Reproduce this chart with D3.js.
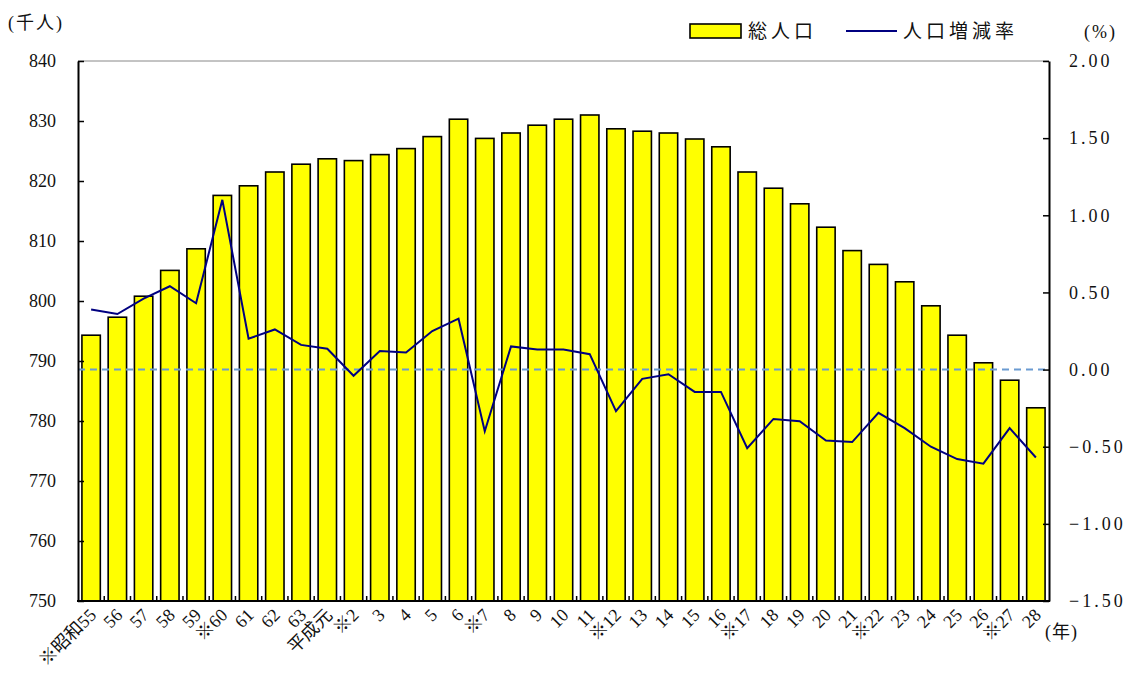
<!DOCTYPE html>
<html><head><meta charset="utf-8">
<script src="https://cdn.jsdelivr.net/npm/d3@7"></script>
<style>
body{margin:0;background:#fff;}
</style></head>
<body><svg id="c" width="1135" height="682" font-family="'Liberation Serif','DejaVu Serif','Noto Sans CJK JP',serif"></svg>
<script>
const categories = ["※昭和55","56","57","58","59","※60","61","62","63","平成元","※2","3","4","5","6","※7","8","9","10","11","※12","13","14","15","16","※17","18","19","20","21","※22","23","24","25","26","※27","28"];
const population = [794.3,797.3,800.8,805.1,808.7,817.6,819.2,821.5,822.8,823.7,823.4,824.4,825.4,827.4,830.3,827.1,828.0,829.3,830.3,831.0,828.7,828.3,828.0,827.0,825.7,821.5,818.8,816.2,812.3,808.4,806.1,803.2,799.2,794.3,789.7,786.8,782.2];
const rate = [0.39,0.36,0.46,0.54,0.43,1.10,0.20,0.26,0.16,0.135,-0.04,0.12,0.11,0.25,0.33,-0.40,0.15,0.13,0.13,0.10,-0.27,-0.06,-0.03,-0.145,-0.145,-0.51,-0.32,-0.335,-0.46,-0.47,-0.28,-0.38,-0.50,-0.58,-0.61,-0.38,-0.57];
const leftTicks = [750,760,770,780,790,800,810,820,830,840];
const rightTicks = [-1.5,-1.0,-0.5,0,0.5,1.0,1.5,2.0];
const seriesNames = ["総人口","人口増減率"];

const FONT = "'Liberation Serif','DejaVu Serif','Noto Sans CJK JP',serif";
const svg = d3.select("#c");
const L = 78, R = 1049, T = 61, B = 601;

const x = d3.scaleBand().domain(categories).range([L, R]).paddingInner(0.3).paddingOuter(0.15);
const xc = d => x(d) + x.bandwidth()/2;
const y = d3.scaleLinear().domain([750, 840]).range([B, T]);
const y2 = d3.scaleLinear().domain([-1.5, 2.0]).range([B, T]);

svg.append("line").attr("x1", L).attr("x2", R).attr("y1", T).attr("y2", T)
  .attr("stroke", "#888").attr("stroke-width", 1);

const step = (R - L) / categories.length;
svg.append("g").selectAll("rect").data(categories).join("rect")
  .attr("x", d => xc(d) - 9.2)
  .attr("width", 18.4)
  .attr("y", (d,i) => y(population[i]))
  .attr("height", (d,i) => B - y(population[i]))
  .attr("fill", "#ffff00").attr("stroke", "#000").attr("stroke-width", 1.6);

svg.append("line").attr("x1", L).attr("x2", R).attr("y1", y2(0)).attr("y2", y2(0))
  .attr("stroke", "#6b9bd2").attr("stroke-width", 2).attr("stroke-dasharray", "7,5");

svg.append("path").datum(rate)
  .attr("d", d3.line().x((d,i) => xc(categories[i])).y(d => y2(d)))
  .attr("fill", "none").attr("stroke", "#000080").attr("stroke-width", 2);

const gl = svg.append("g").attr("transform", `translate(${L},0)`)
  .call(d3.axisLeft(y).tickValues(leftTicks).tickSizeInner(-6).tickSizeOuter(0).tickPadding(22));
gl.attr("font-family", FONT).attr("font-size", 18);
gl.select(".domain").attr("stroke", "#000").attr("stroke-width", 2);
gl.selectAll(".tick line").attr("stroke", "#000").attr("stroke-width", 1.5);
gl.selectAll(".tick text").attr("font-size", 18).attr("font-family", FONT).attr("fill", "#111");

const gr = svg.append("g").attr("transform", `translate(${R},0)`)
  .call(d3.axisRight(y2).tickValues(rightTicks).tickSizeInner(-6).tickSizeOuter(0).tickPadding(0)
    .tickFormat(d3.format(".2f")));
gr.attr("font-family", FONT).attr("font-size", 18);
gr.select(".domain").attr("stroke", "#000").attr("stroke-width", 2);
gr.selectAll(".tick line").attr("stroke", "#000").attr("stroke-width", 1.5);
gr.selectAll(".tick text").attr("font-size", 18).attr("letter-spacing", "3px")
  .attr("x", 20).attr("font-family", FONT).attr("fill", "#111");

svg.append("line").attr("x1", L-1).attr("x2", R+1).attr("y1", B).attr("y2", B)
  .attr("stroke", "#000").attr("stroke-width", 2);
svg.append("g").selectAll("line").data(d3.range(1, categories.length)).join("line")
  .attr("x1", i => L + i*step).attr("x2", i => L + i*step)
  .attr("y1", B).attr("y2", B - 5)
  .attr("stroke", "#000").attr("stroke-width", 1.5);

// x labels rotated -45
const lab = svg.append("g").selectAll("g").data(categories).join("g")
  .attr("transform", d => `translate(${xc(d) - 4},${B + 5})`);
lab.append("text")
  .attr("transform", "rotate(-45)")
  .attr("text-anchor", "end").attr("dy", "0.8em")
  .attr("font-size", 18).attr("font-family", FONT).attr("fill", "#111")
  .text(d => d);

const txt = (xx, yy, s, size, ls) => svg.append("text").attr("x", xx).attr("y", yy)
  .attr("font-size", size).attr("font-family", FONT).attr("fill", "#111")
  .attr("letter-spacing", ls).text(s);
txt(1045, 638, "(年)", 18, "1px");
txt(8, 29, "(千人)", 18, "2px");
txt(1084, 38, "(%)", 18, "2px");

svg.append("rect").attr("x", 690).attr("y", 24).attr("width", 51).attr("height", 14)
  .attr("fill", "#ffff00").attr("stroke", "#000").attr("stroke-width", 1.6);
txt(748, 38, seriesNames[0], 19, "4px");
svg.append("line").attr("x1", 846).attr("x2", 897).attr("y1", 31).attr("y2", 31)
  .attr("stroke", "#000080").attr("stroke-width", 2);
txt(903, 38, seriesNames[1], 19, "4px");
</script></body></html>
